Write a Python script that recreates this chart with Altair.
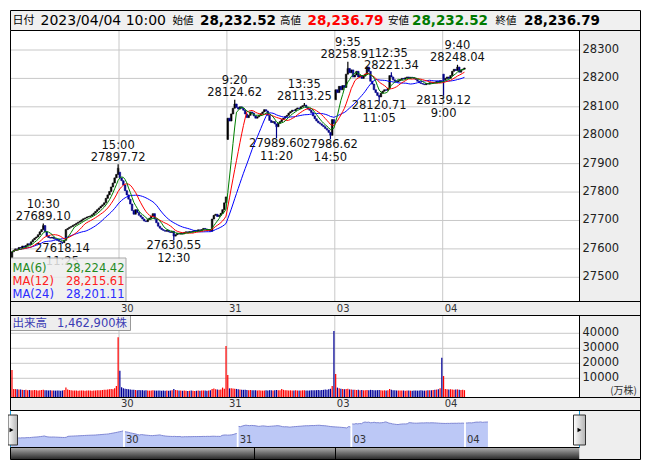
import altair as alt
import pandas as pd

# ---------------- data ----------------
day_labels = ["30", "31", "03", "04"]
day_bounds = [62, 124, 186, 248]          # bar index where each new day starts
day_opens = [27570, 27870, 27985, 28125, 28215]

close_0329 = [27590, 27595, 27600, 27598, 27605, 27603, 27610, 27606, 27612, 27618,
              27615, 27625, 27632, 27638, 27642, 27650, 27660, 27668, 27682, 27660,
              27645, 27640, 27638, 27641, 27636, 27634, 27630, 27627, 27624, 27622,
              27630, 27668, 27672, 27676, 27679, 27683, 27686, 27690, 27694, 27697,
              27702, 27706, 27709, 27712, 27714, 27716, 27720, 27726, 27732, 27738,
              27744, 27750, 27755, 27762, 27778, 27790, 27802, 27818, 27832, 27850,
              27862, 27884]
close_0330 = [27850, 27840, 27825, 27805, 27790, 27775, 27758, 27735, 27722, 27738,
              27728, 27718, 27712, 27705, 27698, 27696, 27703, 27708, 27715, 27724,
              27705, 27692, 27680, 27673, 27668, 27665, 27662, 27666, 27660, 27658,
              27662, 27645, 27650, 27655, 27652, 27656, 27653, 27658, 27660, 27657,
              27661, 27659, 27662, 27665, 27663, 27667, 27664, 27668, 27672, 27670,
              27666, 27668, 27662, 27705, 27718, 27722, 27714, 27718, 27725, 27738,
              27762, 27783]
close_0331 = [28060, 28050, 28075, 28095, 28110, 28098, 28092, 28100, 28095, 28088,
              28075, 28062, 28070, 28082, 28078, 28068, 28060, 28065, 28070, 28076,
              28082, 28090, 28085, 28070, 28052, 28045, 28048, 28040, 28030, 28042,
              28048, 28055, 28060, 28066, 28070, 28078, 28083, 28088, 28086, 28092,
              28096, 28094, 28100, 28104, 28106, 28098, 28092, 28088, 28080, 28068,
              28058, 28050, 28044, 28040, 28035, 28030, 28024, 28018, 28010, 28000,
              28055, 28041]
close_0403 = [28160, 28150, 28172, 28160, 28175, 28168, 28215, 28235, 28220, 28230,
              28205, 28212, 28225, 28205, 28210, 28200, 28208, 28215, 28240, 28225,
              28190, 28180, 28160, 28150, 28140, 28135, 28148, 28155, 28160, 28158,
              28165, 28210, 28205, 28195, 28190, 28188, 28192, 28196, 28200, 28198,
              28202, 28205, 28200, 28204, 28203, 28200, 28196, 28190, 28185, 28182,
              28180, 28178, 28182, 28180, 28185, 28183, 28186, 28184, 28190, 28186,
              28192, 28188]
close_0404 = [28195, 28200, 28205, 28200, 28210, 28225, 28232, 28228, 28240, 28222,
              28230, 28232.52, 28236.79]

vol_0329 = [15500, 2900, 2800, 2700, 2600, 2500, 2300, 2200, 2300, 2100,
            2200, 2000, 2100, 2200, 2000, 1900, 2100, 2200, 2300, 2100,
            2000, 1900, 2000, 1800, 1900, 1800, 1900, 1800, 1700, 1900,
            2200, 3800, 2600, 2200, 2000, 1900, 1800, 1900, 1700, 1800,
            1900, 1800, 1700, 1800, 1900, 1800, 1700, 1800, 1900, 2000,
            2100, 2000, 2200, 2300, 2400, 2500, 2700, 2800, 2700, 3300,
            4900, 37300]
vol_0330 = [15000, 4000, 3300, 3000, 2800, 2700, 2500, 2400, 2300, 2200,
            2100, 2200, 2000, 2100, 1900, 2000, 1900, 1800, 1900, 2000,
            1900, 1800, 1900, 1800, 1700, 1800, 1700, 1800, 1700, 1800,
            2000, 2900, 2200, 2000, 1900, 1800, 1700, 1800, 1700, 1600,
            1700, 1800, 1700, 1600, 1700, 1800, 1700, 1800, 1900, 1800,
            1700, 1800, 2000, 2900, 3200, 2700, 2500, 2400, 2600, 3800,
            3000, 31500]
vol_0331 = [12200, 3300, 3300, 3200, 3000, 2900, 2700, 2500, 2400, 2300,
            2400, 2200, 2100, 2200, 2000, 2100, 2000, 1900, 2000, 1900,
            1800, 1900, 2000, 1900, 2100, 2000, 1900, 2000, 2200, 2000,
            2100, 2900, 2300, 2100, 2000, 1900, 2000, 1800, 1900, 2000,
            1900, 1800, 1900, 2000, 2100, 1900, 1800, 1900, 2000, 2100,
            2000, 2100, 2200, 2100, 2200, 2300, 2500, 2300, 2700, 3000,
            4900, 41500]
vol_0403 = [12900, 3800, 3300, 3000, 2800, 2700, 2900, 3100, 2600, 2500,
            2400, 2300, 2200, 2300, 2100, 2200, 2000, 2100, 2200, 2100,
            2300, 2200, 2100, 2000, 2100, 2200, 2000, 1900, 2000, 1900,
            2000, 2900, 2400, 2100, 2000, 1900, 1800, 1900, 1800, 1900,
            1700, 1800, 1900, 1800, 1700, 1800, 1900, 1800, 1900, 2000,
            1900, 1800, 1900, 2000, 2100, 2000, 2200, 2300, 2500, 2700,
            3300, 23700]
vol_0404 = [11500, 2800, 2700, 2600, 2700, 2500, 2400, 2500, 2600, 2300,
            2200, 2300, 2100]

ext_index = [18, 29, 61, 93, 128, 152, 168, 183, 193, 211, 218, 248, 256]
ext_time = ["10:30", "11:25", "15:00", "12:30", "9:20", "11:20", "13:35",
            "14:50", "9:35", "11:05", "12:35", "9:00", "9:40"]
ext_value = [27689.10, 27618.14, 27897.72, 27630.55, 28124.62, 27989.60, 28113.25,
             27986.62, 28258.91, 28120.71, 28221.34, 28139.12, 28248.04]
ext_kind = ["high", "low", "high", "low", "high", "low", "high",
            "low", "high", "low", "high", "low", "high"]

price_ticks = [27500, 27600, 27700, 27800, 27900, 28000, 28100, 28200, 28300]
vol_ticks = [10000, 20000, 30000, 40000]
nav_base = 27245   # value at the navigator's bottom edge

ma_names = ["MA(6)", "MA(12)", "MA(24)"]
ma_values = ["28,224.42", "28,215.61", "28,201.11"]
ma_colors = ["#1f8a1f", "#ff2020", "#2a2aff"]

header_parts = [
    ("日付", 12.5, 11, "normal", "#000000"),
    ("2023/04/04 10:00", 40.5, 14, "normal", "#000000"),
    ("始値", 172.5, 10.5, "normal", "#000000"),
    ("28,232.52", 200, 13.5, "bold", "#000000"),
    ("高値", 280, 10.5, "normal", "#000000"),
    ("28,236.79", 307.5, 13.5, "bold", "#ff0000"),
    ("安値", 388, 10.5, "normal", "#000000"),
    ("28,232.52", 412, 13.5, "bold", "#007a00"),
    ("終値", 495.5, 10.5, "normal", "#000000"),
    ("28,236.79", 524, 13.5, "bold", "#000000"),
]

# ---------------- tables ----------------
closes = close_0329 + close_0330 + close_0331 + close_0403 + close_0404
vols = vol_0329 + vol_0330 + vol_0331 + vol_0403 + vol_0404
days = ([0] * len(close_0329) + [1] * len(close_0330) + [2] * len(close_0331)
        + [3] * len(close_0403) + [4] * len(close_0404))
n = len(closes)
opens, prevs = [], []
for k in range(n):
    d = days[k]
    first = k == 0 or days[k - 1] != d
    opens.append(day_opens[d] if first else closes[k - 1])
    prevs.append(day_opens[d] if k == 0 else closes[k - 1])

df = pd.DataFrame({"i": list(range(n)), "close": closes, "open": opens,
                   "prev": prevs, "vol": vols, "day": days})
df["x0"] = df["i"] + 0.05
df["x1"] = df["i"] + 0.95
df["xc"] = df["i"] + 0.5
df["vx0"] = df["i"] + 0.15
df["vx1"] = df["i"] + 0.85
df["up"] = df["close"] >= df["open"]
df["vup"] = df["close"] >= df["prev"]

ext = pd.DataFrame({"i": ext_index, "v": ext_value, "t": ext_time, "kind": ext_kind})
ext["xc"] = ext["i"] + 0.5
ext["close"] = [closes[k] for k in ext_index]
ext["up"] = [bool(df["up"][k]) for k in ext_index]
ext["vs"] = [f"{v:.2f}" for v in ext_value]

bounds = pd.DataFrame({"b": day_bounds, "lab": day_labels})
pt = pd.DataFrame({"v": price_ticks})
vt = pd.DataFrame({"v": vol_ticks})

# ---------------- helpers ----------------
OFF = 8.0


def c(v):
    return v - OFF


one = pd.DataFrame({"k": [0]})
FONT = "DejaVu Sans, Noto Sans CJK JP"
CJK = "Noto Sans CJK JP"


def rect(x1, x2, y1, y2, **kw):
    return alt.Chart(one).mark_rect(**kw).encode(
        x=alt.value(c(x1)), x2=alt.value(c(x2)), y=alt.value(c(y1)), y2=alt.value(c(y2)))


def hline(y, x1, x2, color="#000000", w=1):
    return alt.Chart(one).mark_rule(color=color, strokeWidth=w).encode(
        y=alt.value(c(y)), x=alt.value(c(x1)), x2=alt.value(c(x2)))


def vline(x, y1, y2, color="#000000", w=1):
    return alt.Chart(one).mark_rule(color=color, strokeWidth=w).encode(
        x=alt.value(c(x)), y=alt.value(c(y1)), y2=alt.value(c(y2)))


def label(text, x, y, **kw):
    return alt.Chart(one).mark_text(text=text, **kw).encode(
        x=alt.value(c(x)), y=alt.value(c(y)))


X_PRICE = alt.Scale(domain=[62, 248], range=[c(119), c(442.7)], nice=False, zero=False)
Y_PRICE = alt.Scale(domain=[27500, 28300], range=[c(277.3), c(50)], nice=False, zero=False)
Y_VOL = alt.Scale(domain=[10000, 40000], range=[c(378.3), c(333.3)], nice=False, zero=False)
X_NAV = alt.Scale(domain=[62, 248], range=[c(124), c(465)], nice=False, zero=False)
Y_NAV = alt.Scale(domain=[27590, 28236], range=[c(438.3), c(422)], nice=False, zero=False)

GRAY = "#eeeeee"
GRID = "#c8c8c8"
layers = []

# ---------------- backgrounds ----------------
layers += [
    rect(10.5, 640.5, 10.5, 30.5, fill="#f0f0f0"),
    rect(10.5, 579.5, 30.5, 301.5, fill="#ffffff"),
    rect(579.5, 640.5, 30.5, 301.5, fill=GRAY),
    rect(10.5, 640.5, 301.5, 315.5, fill=GRAY),
    rect(10.5, 579.5, 315.5, 397.5, fill="#ffffff"),
    rect(579.5, 640.5, 315.5, 397.5, fill=GRAY),
    rect(10.5, 640.5, 397.5, 410.5, fill=GRAY),
    rect(10.5, 579.5, 410.5, 447.5, fill="#ffffff"),
    rect(579.5, 640.5, 410.5, 459.5, fill=GRAY),
]

# ---------------- gridlines ----------------
layers += [
    alt.Chart(pt).mark_rule(color=GRID, strokeWidth=1).encode(
        y=alt.Y("v:Q", scale=Y_PRICE, axis=None),
        x=alt.value(c(10.5)), x2=alt.value(c(579.5))),
    alt.Chart(bounds).mark_rule(color=GRID, strokeWidth=1).encode(
        x=alt.X("b:Q", scale=X_PRICE, axis=None),
        y=alt.value(c(30.5)), y2=alt.value(c(301.5))),
    alt.Chart(vt).mark_rule(color=GRID, strokeWidth=1).encode(
        y=alt.Y("v:Q", scale=Y_VOL, axis=None),
        x=alt.value(c(10.5)), x2=alt.value(c(579.5))),
    alt.Chart(bounds).mark_rule(color=GRID, strokeWidth=1).encode(
        x=alt.X("b:Q", scale=X_PRICE, axis=None),
        y=alt.value(c(315.5)), y2=alt.value(c(397.5))),
]

# ---------------- candles ----------------
for flag, col in [(True, "#000000"), (False, "#000088")]:
    sub = df[df["up"] == flag]
    layers.append(alt.Chart(sub).mark_rect(color=col, stroke=col, strokeWidth=0.6).encode(
        x=alt.X("x0:Q", scale=X_PRICE, axis=None), x2="x1:Q",
        y=alt.Y("open:Q", scale=Y_PRICE, axis=None), y2="close:Q"))
    esub = ext[ext["up"] == flag]
    layers.append(alt.Chart(esub).mark_rule(color=col, strokeWidth=1.2).encode(
        x=alt.X("xc:Q", scale=X_PRICE, axis=None),
        y=alt.Y("v:Q", scale=Y_PRICE, axis=None), y2="close:Q"))

# ---------------- moving averages ----------------
ma_base = (alt.Chart(df)
           .transform_window(ma6="mean(close)", frame=[-5, 0], sort=[alt.SortField("i")])
           .transform_window(ma12="mean(close)", frame=[-11, 0], sort=[alt.SortField("i")])
           .transform_window(ma24="mean(close)", frame=[-23, 0], sort=[alt.SortField("i")]))
for fld, col in [("ma24", "#0000ff"), ("ma12", "#ff0000"), ("ma6", "#008000")]:
    layers.append(ma_base.mark_line(color=col, strokeWidth=1).encode(
        x=alt.X("xc:Q", scale=X_PRICE, axis=None),
        y=alt.Y(f"{fld}:Q", scale=Y_PRICE, axis=None)))

# ---------------- extreme annotations ----------------
hi = ext[ext["kind"] == "high"]
lo = ext[ext["kind"] == "low"]
for data, field, dy in [(hi, "vs", -3.5), (hi, "t", -15.5), (lo, "vs", 8.5), (lo, "t", 21.5)]:
    layers.append(alt.Chart(data).mark_text(
        baseline="alphabetic", align="center", dy=dy,
        font=FONT, fontSize=11.5, color="#111111").encode(
        x=alt.X("xc:Q", scale=X_PRICE, axis=None),
        y=alt.Y("v:Q", scale=Y_PRICE, axis=None), text=f"{field}:N"))

# ---------------- MA legend ----------------
layers.append(rect(10.5, 126, 258, 301.5, fill="#eeeeee", opacity=0.85,
                   stroke="#999999", strokeWidth=1))
for k in range(3):
    yb = 271.5 + 13.3 * k
    layers.append(label(ma_names[k], 12.5, yb, align="left", baseline="alphabetic",
                        font=FONT, fontSize=11.5, color=ma_colors[k]))
    layers.append(label(ma_values[k], 124.5, yb, align="right", baseline="alphabetic",
                        font=FONT, fontSize=11.5, color=ma_colors[k]))

# ---------------- volume ----------------
for flag, col in [(True, "#ff0000"), (False, "#000099")]:
    sub = df[df["vup"] == flag]
    layers.append(alt.Chart(sub).mark_rect(color=col).encode(
        x=alt.X("vx0:Q", scale=X_PRICE, axis=None), x2="vx1:Q",
        y=alt.Y("vol:Q", scale=Y_VOL, axis=None), y2=alt.value(c(397.5))))

layers.append(rect(10.5, 130.5, 315.5, 330.5, fill="#eeeeee", stroke="#999999", strokeWidth=1))
layers.append(label("出来高", 12.5, 323.5, align="left", baseline="middle",
                    font=CJK, fontSize=11.5, color="#3c3cb4"))
layers.append(label("1,462,900株", 57, 323.5, align="left", baseline="middle",
                    font=FONT, fontSize=11.5, color="#3c3cb4"))

# ---------------- axis labels ----------------
layers.append(alt.Chart(pt).mark_text(align="left", baseline="middle", font=FONT,
                                      fontSize=11.5, color="#222222").encode(
    y=alt.Y("v:Q", scale=Y_PRICE, axis=None), x=alt.value(c(582.5)),
    text=alt.Text("v:Q", format="d")))
layers.append(alt.Chart(vt).mark_text(align="left", baseline="middle", font=FONT,
                                      fontSize=11.5, color="#222222").encode(
    y=alt.Y("v:Q", scale=Y_VOL, axis=None), x=alt.value(c(582.5)),
    text=alt.Text("v:Q", format="d")))
layers.append(label("(万株)", 637, 390.5, align="right", baseline="middle",
                    font=CJK, fontSize=10, color="#333333"))
for yb in [308.5, 404]:
    layers.append(alt.Chart(bounds).mark_text(align="left", baseline="middle", dx=2,
                                              font=FONT, fontSize=10, color="#333333").encode(
        x=alt.X("b:Q", scale=X_PRICE, axis=None), y=alt.value(c(yb)), text="lab:N"))

# ---------------- navigator ----------------
layers.append(vline(10.5, 410.5, 447.5, color="#1aa0e0"))
layers.append(vline(579.5, 410.5, 447.5, color="#1aa0e0"))
layers.append(alt.Chart(df).mark_area(color="#bcc8f6", opacity=1).encode(
    x=alt.X("xc:Q", scale=X_NAV, axis=None),
    y=alt.Y("close:Q", scale=Y_NAV, axis=None), y2=alt.datum(nav_base),
    detail="day:N"))
layers.append(alt.Chart(df).mark_line(color="#7f87d4", strokeWidth=1).encode(
    x=alt.X("xc:Q", scale=X_NAV, axis=None),
    y=alt.Y("close:Q", scale=Y_NAV, axis=None), detail="day:N"))
layers.append(alt.Chart(bounds).mark_text(align="left", baseline="middle", dx=2,
                                          font=FONT, fontSize=10, color="#333333").encode(
    x=alt.X("b:Q", scale=X_NAV, axis=None), y=alt.value(c(440)), text="lab:N"))

# scrollbar
layers.append(rect(10.5, 579.5, 447.5, 459.5,
                   fill={"gradient": "linear", "x1": 0, "y1": 0, "x2": 0, "y2": 1,
                         "stops": [{"offset": 0, "color": "#b0b0b0"},
                                   {"offset": 0.45, "color": "#707070"},
                                   {"offset": 1, "color": "#262626"}]}))
layers.append(rect(579.5, 640.5, 447.5, 459.5, fill=GRAY))

handle_fill = {"gradient": "linear", "x1": 0, "y1": 0, "x2": 1, "y2": 0,
               "stops": [{"offset": 0, "color": "#ffffff"},
                         {"offset": 1, "color": "#b4b4b4"}]}
layers.append(rect(8, 17.5, 415, 445, fill=handle_fill, stroke="#333333", strokeWidth=1))
layers.append(rect(573.5, 585.5, 415, 445, fill=handle_fill, stroke="#333333", strokeWidth=1))
for xx in [11.5, 579.5]:
    layers.append(alt.Chart(one).mark_point(shape="triangle-right", filled=True,
                                            color="#000000", size=22, opacity=1).encode(
        x=alt.value(c(xx)), y=alt.value(c(430))))

layers.append(vline(254.5, 447.5, 459.5))
layers.append(vline(335.5, 447.5, 459.5))

# ---------------- borders ----------------
for yy in [10.5, 30.5, 301.5, 315.5, 397.5, 410.5, 459.5]:
    layers.append(hline(yy, 10.5, 640.5))
layers.append(hline(447.5, 10.5, 579.5))
layers.append(vline(10.5, 10.5, 30.5))
layers.append(vline(10.5, 30.5, 410.5))
layers.append(vline(10.5, 447.5, 459.5))
layers.append(vline(640.5, 10.5, 459.5))
layers.append(vline(579.5, 30.5, 301.5))
layers.append(vline(579.5, 315.5, 397.5))

# ---------------- header texts ----------------
for txt, xx, fs, fw, col in header_parts:
    layers.append(label(txt, xx, 20.5, align="left", baseline="middle",
                        font=FONT, fontSize=fs, fontWeight=fw, color=col))

chart = (alt.layer(*layers)
         .resolve_scale(x="independent", y="independent")
         .properties(width=635, height=455, padding=0,
                     autosize=alt.AutoSizeParams(type="none"))
         .configure_view(stroke=None))

chart.save("out.html", embed_options={"renderer": "svg", "actions": False})
